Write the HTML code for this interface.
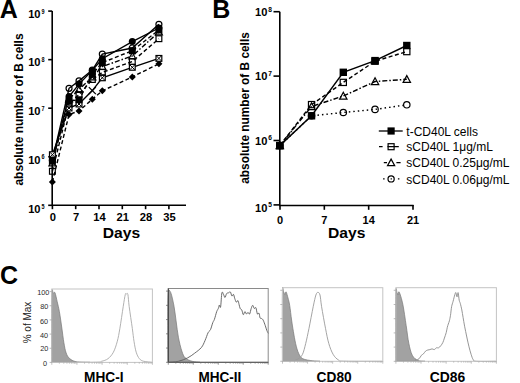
<!DOCTYPE html>
<html><head><meta charset="utf-8"><style>
html,body{margin:0;padding:0;background:#fff;}
body{width:520px;height:383px;overflow:hidden;}
svg{display:block;}
</style></head><body>
<svg width="520" height="383" viewBox="0 0 520 383">
<text x="-0.2" y="17.7" font-size="25" font-weight="bold" font-family="'Liberation Sans', sans-serif">A</text>
<text x="212.3" y="17.8" font-size="25" font-weight="bold" font-family="'Liberation Sans', sans-serif">B</text>
<text x="-0.1" y="283.6" font-size="25" font-weight="bold" font-family="'Liberation Sans', sans-serif">C</text>
<g stroke="#000" stroke-width="1.6" fill="none">
<path d="M52.2,11.1 V205.3 H186"/>
<path d="M48.2,205.30 H52.2"/>
<path d="M48.2,156.75 H52.2"/>
<path d="M48.2,108.20 H52.2"/>
<path d="M48.2,59.65 H52.2"/>
<path d="M48.2,11.10 H52.2"/>
<path d="M52.40,205.3 V209.2"/>
<path d="M75.70,205.3 V209.2"/>
<path d="M99.00,205.3 V209.2"/>
<path d="M122.30,205.3 V209.2"/>
<path d="M145.60,205.3 V209.2"/>
<path d="M168.90,205.3 V209.2"/>
</g>
<text x="40.5" y="212.60" font-size="11.1" font-weight="bold" text-anchor="end" font-family="'Liberation Sans', sans-serif">10</text>
<text transform="translate(41.6,208.50) scale(0.82,1)" font-size="6.7" font-weight="bold" font-family="'Liberation Sans', sans-serif">5</text>
<text x="40.5" y="163.55" font-size="11.1" font-weight="bold" text-anchor="end" font-family="'Liberation Sans', sans-serif">10</text>
<text transform="translate(41.6,159.45) scale(0.82,1)" font-size="6.7" font-weight="bold" font-family="'Liberation Sans', sans-serif">6</text>
<text x="40.5" y="115.00" font-size="11.1" font-weight="bold" text-anchor="end" font-family="'Liberation Sans', sans-serif">10</text>
<text transform="translate(41.6,110.90) scale(0.82,1)" font-size="6.7" font-weight="bold" font-family="'Liberation Sans', sans-serif">7</text>
<text x="40.5" y="66.45" font-size="11.1" font-weight="bold" text-anchor="end" font-family="'Liberation Sans', sans-serif">10</text>
<text transform="translate(41.6,62.35) scale(0.82,1)" font-size="6.7" font-weight="bold" font-family="'Liberation Sans', sans-serif">8</text>
<text x="40.5" y="17.90" font-size="11.1" font-weight="bold" text-anchor="end" font-family="'Liberation Sans', sans-serif">10</text>
<text transform="translate(41.6,13.80) scale(0.82,1)" font-size="6.7" font-weight="bold" font-family="'Liberation Sans', sans-serif">9</text>
<text x="52.90" y="221.1" font-size="11.2" font-weight="bold" text-anchor="middle" font-family="'Liberation Sans', sans-serif">0</text>
<text x="76.20" y="221.1" font-size="11.2" font-weight="bold" text-anchor="middle" font-family="'Liberation Sans', sans-serif">7</text>
<text x="99.50" y="221.1" font-size="11.2" font-weight="bold" text-anchor="middle" font-family="'Liberation Sans', sans-serif">14</text>
<text x="122.80" y="221.1" font-size="11.2" font-weight="bold" text-anchor="middle" font-family="'Liberation Sans', sans-serif">21</text>
<text x="146.10" y="221.1" font-size="11.2" font-weight="bold" text-anchor="middle" font-family="'Liberation Sans', sans-serif">28</text>
<text x="169.40" y="221.1" font-size="11.2" font-weight="bold" text-anchor="middle" font-family="'Liberation Sans', sans-serif">35</text>
<text x="121.5" y="237.5" font-size="15.5" font-weight="bold" text-anchor="middle" textLength="37.4" lengthAdjust="spacingAndGlyphs" font-family="'Liberation Sans', sans-serif">Days</text>
<text transform="translate(22.9,109.5) rotate(-90)" x="0" y="0" font-size="12.4" font-weight="bold" text-anchor="middle" textLength="152" lengthAdjust="spacingAndGlyphs" font-family="'Liberation Sans', sans-serif">absolute number of B cells</text>
<g stroke="#000" stroke-width="1.6" fill="none">
<path d="M279.8,11.7 V205.5 H413.6"/>
<path d="M273.5,204.90 H279.8"/>
<path d="M273.5,140.50 H279.8"/>
<path d="M273.5,76.10 H279.8"/>
<path d="M273.5,11.70 H279.8"/>
<path d="M280.00,204.9 V209.8"/>
<path d="M324.33,204.9 V209.8"/>
<path d="M368.67,204.9 V209.8"/>
<path d="M413.00,204.9 V209.8"/>
</g>
<text x="267.4" y="211.50" font-size="11.1" font-weight="bold" text-anchor="end" font-family="'Liberation Sans', sans-serif">10</text>
<text x="268.3" y="207.30" font-size="6.6" font-weight="bold" font-family="'Liberation Sans', sans-serif">5</text>
<text x="267.4" y="144.50" font-size="11.1" font-weight="bold" text-anchor="end" font-family="'Liberation Sans', sans-serif">10</text>
<text x="268.3" y="140.30" font-size="6.6" font-weight="bold" font-family="'Liberation Sans', sans-serif">6</text>
<text x="267.4" y="80.10" font-size="11.1" font-weight="bold" text-anchor="end" font-family="'Liberation Sans', sans-serif">10</text>
<text x="268.3" y="75.90" font-size="6.6" font-weight="bold" font-family="'Liberation Sans', sans-serif">7</text>
<text x="267.4" y="15.70" font-size="11.1" font-weight="bold" text-anchor="end" font-family="'Liberation Sans', sans-serif">10</text>
<text x="268.3" y="11.50" font-size="6.6" font-weight="bold" font-family="'Liberation Sans', sans-serif">8</text>
<text x="280.00" y="223.9" font-size="11" font-weight="bold" text-anchor="middle" font-family="'Liberation Sans', sans-serif">0</text>
<text x="324.33" y="223.9" font-size="11" font-weight="bold" text-anchor="middle" font-family="'Liberation Sans', sans-serif">7</text>
<text x="368.67" y="223.9" font-size="11" font-weight="bold" text-anchor="middle" font-family="'Liberation Sans', sans-serif">14</text>
<text x="413.00" y="223.9" font-size="11" font-weight="bold" text-anchor="middle" font-family="'Liberation Sans', sans-serif">21</text>
<text x="346.7" y="237.8" font-size="15.5" font-weight="bold" text-anchor="middle" textLength="37.4" lengthAdjust="spacingAndGlyphs" font-family="'Liberation Sans', sans-serif">Days</text>
<text transform="translate(249.0,108.0) rotate(-90)" x="0" y="0" font-size="12.4" font-weight="bold" text-anchor="middle" textLength="151.6" lengthAdjust="spacingAndGlyphs" font-family="'Liberation Sans', sans-serif">absolute number of B cells</text>
<path d="M279.80,145.60 L311.55,104.60 L343.30,82.40 L375.05,61.20 L406.80,51.60" fill="none" stroke="#000" stroke-width="1.45" stroke-dasharray="4,2.5"/><path d="M279.80,145.60 L311.55,106.50 L343.30,96.00 L375.05,81.50 L406.80,79.30" fill="none" stroke="#000" stroke-width="1.45" stroke-dasharray="5,2,1.5,2"/><path d="M279.80,145.60 L311.55,115.80 L343.30,112.50 L375.05,109.40 L406.80,104.80" fill="none" stroke="#000" stroke-width="1.45" stroke-dasharray="1.5,3"/><path d="M279.80,145.60 L311.55,115.80 L343.30,72.30 L375.05,60.60 L406.80,45.50" fill="none" stroke="#000" stroke-width="1.45"/>
<rect x="276.70" y="142.50" width="6.2" height="6.2" fill="none" stroke="#000" stroke-width="1.2"/><rect x="308.45" y="101.50" width="6.2" height="6.2" fill="none" stroke="#000" stroke-width="1.2"/><rect x="340.20" y="79.30" width="6.2" height="6.2" fill="none" stroke="#000" stroke-width="1.2"/><rect x="371.95" y="58.10" width="6.2" height="6.2" fill="none" stroke="#000" stroke-width="1.2"/><rect x="403.70" y="48.50" width="6.2" height="6.2" fill="none" stroke="#000" stroke-width="1.2"/><path d="M279.80,141.90 L283.50,148.70 L276.10,148.70 Z" fill="none" stroke="#000" stroke-width="1.2"/><path d="M311.55,102.80 L315.25,109.60 L307.85,109.60 Z" fill="none" stroke="#000" stroke-width="1.2"/><path d="M343.30,92.30 L347.00,99.10 L339.60,99.10 Z" fill="none" stroke="#000" stroke-width="1.2"/><path d="M375.05,77.80 L378.75,84.60 L371.35,84.60 Z" fill="none" stroke="#000" stroke-width="1.2"/><path d="M406.80,75.60 L410.50,82.40 L403.10,82.40 Z" fill="none" stroke="#000" stroke-width="1.2"/><circle cx="279.80" cy="145.60" r="3.20" fill="none" stroke="#000" stroke-width="1.2"/><circle cx="311.55" cy="115.80" r="3.20" fill="none" stroke="#000" stroke-width="1.2"/><circle cx="343.30" cy="112.50" r="3.20" fill="none" stroke="#000" stroke-width="1.2"/><circle cx="375.05" cy="109.40" r="3.20" fill="none" stroke="#000" stroke-width="1.2"/><circle cx="406.80" cy="104.80" r="3.20" fill="none" stroke="#000" stroke-width="1.2"/><rect x="276.10" y="141.90" width="7.4" height="7.4" fill="#000"/><rect x="307.85" y="112.10" width="7.4" height="7.4" fill="#000"/><rect x="339.60" y="68.60" width="7.4" height="7.4" fill="#000"/><rect x="371.35" y="56.90" width="7.4" height="7.4" fill="#000"/><rect x="403.10" y="41.80" width="7.4" height="7.4" fill="#000"/>
<path d="M378.8,131.0 H402.7" stroke="#000" stroke-width="1.3"/>
<rect x="387.50" y="127.40" width="7.2" height="7.2" fill="#000"/>
<text x="406.3" y="135.60" font-size="12.0" font-family="'Liberation Sans', sans-serif">t-CD40L cells</text>
<path d="M379,146.7 H382.6 M387.5,146.7 H398.8" stroke="#000" stroke-width="1.3"/>
<rect x="388.10" y="143.70" width="6.0" height="6.0" fill="none" stroke="#000" stroke-width="1.2"/>
<text x="406.3" y="151.30" font-size="12.0" font-family="'Liberation Sans', sans-serif">sCD40L 1μg/mL</text>
<path d="M383.8,162.7 H387 M396.4,162.7 H400.6" stroke="#000" stroke-width="1.3"/>
<path d="M391.10,159.10 L394.70,165.70 L387.50,165.70 Z" fill="none" stroke="#000" stroke-width="1.2"/>
<text x="406.3" y="167.30" font-size="12.0" font-family="'Liberation Sans', sans-serif">sCD40L 0.25μg/mL</text>
<path d="M383.1,178.9 H384.6 M390.6,178.9 H391.9 M397.9,178.9 H399.4" stroke="#000" stroke-width="1.3"/>
<circle cx="391.10" cy="178.90" r="3.10" fill="none" stroke="#000" stroke-width="1.2"/>
<text x="406.3" y="183.50" font-size="12.0" font-family="'Liberation Sans', sans-serif">sCD40L 0.06μg/mL</text>
<path d="M52.40,182.00 L69.04,114.50 L79.03,111.00 L92.34,99.20 L102.33,90.80 L132.29,76.90 L158.91,63.80" fill="none" stroke="#000" stroke-width="1.4" stroke-dasharray="4,2.5"/><path d="M52.40,154.70 L69.04,108.00 L79.03,104.00 L92.34,90.60 L102.33,77.80 L132.29,67.30 L158.91,58.40" fill="none" stroke="#000" stroke-width="1.4"/><path d="M52.40,171.30 L69.04,104.00 L79.03,94.60 L92.34,79.50 L102.33,72.40 L132.29,61.50 L158.91,38.70" fill="none" stroke="#000" stroke-width="1.4" stroke-dasharray="4,2.5"/><path d="M52.40,163.00 L69.04,99.00 L79.03,89.40 L92.34,77.00 L102.33,66.50 L132.29,56.00 L158.91,32.00" fill="none" stroke="#000" stroke-width="1.4" stroke-dasharray="5,2,1.5,2"/><path d="M52.40,161.00 L69.04,101.00 L79.03,99.80 L92.34,74.30 L102.33,62.60 L132.29,50.70 L158.91,30.00" fill="none" stroke="#000" stroke-width="1.4" stroke-dasharray="4,2.5"/><path d="M52.40,160.00 L69.04,96.50 L79.03,84.10 L92.34,70.40 L102.33,58.70 L132.29,41.60 L158.91,28.00" fill="none" stroke="#000" stroke-width="1.4"/><path d="M52.40,160.50 L69.04,88.30 L79.03,80.90 L92.34,70.00 L102.33,54.10 L132.29,48.00 L158.91,24.30" fill="none" stroke="#000" stroke-width="1.4"/>
<path d="M52.40,178.50 L55.90,182.00 L52.40,185.50 L48.90,182.00 Z" fill="#000"/><path d="M69.04,111.00 L72.54,114.50 L69.04,118.00 L65.54,114.50 Z" fill="#000"/><path d="M79.03,107.50 L82.53,111.00 L79.03,114.50 L75.53,111.00 Z" fill="#000"/><path d="M92.34,95.70 L95.84,99.20 L92.34,102.70 L88.84,99.20 Z" fill="#000"/><path d="M102.33,87.30 L105.83,90.80 L102.33,94.30 L98.83,90.80 Z" fill="#000"/><path d="M132.29,73.40 L135.79,76.90 L132.29,80.40 L128.79,76.90 Z" fill="#000"/><path d="M158.91,60.30 L162.41,63.80 L158.91,67.30 L155.41,63.80 Z" fill="#000"/><rect x="49.50" y="151.80" width="5.8" height="5.8" fill="#fff" stroke="#000" stroke-width="1.2"/><path d="M49.9,152.2 L54.9,157.2 M54.9,152.2 L49.9,157.2" stroke="#000" stroke-width="1"/><rect x="66.14" y="105.10" width="5.8" height="5.8" fill="#fff" stroke="#000" stroke-width="1.2"/><path d="M66.54285714285714,105.5 L71.54285714285714,110.5 M71.54285714285714,105.5 L66.54285714285714,110.5" stroke="#000" stroke-width="1"/><rect x="76.13" y="101.10" width="5.8" height="5.8" fill="#fff" stroke="#000" stroke-width="1.2"/><path d="M76.52857142857144,101.5 L81.52857142857144,106.5 M81.52857142857144,101.5 L76.52857142857144,106.5" stroke="#000" stroke-width="1"/><path d="M88.84,87.10 L95.84,94.10 M95.84,87.10 L88.84,94.10" stroke="#000" stroke-width="1.3"/><rect x="99.43" y="74.90" width="5.8" height="5.8" fill="#fff" stroke="#000" stroke-width="1.2"/><path d="M99.82857142857144,75.3 L104.82857142857144,80.3 M104.82857142857144,75.3 L99.82857142857144,80.3" stroke="#000" stroke-width="1"/><rect x="129.39" y="64.40" width="5.8" height="5.8" fill="#fff" stroke="#000" stroke-width="1.2"/><path d="M129.7857142857143,64.8 L134.7857142857143,69.8 M134.7857142857143,64.8 L129.7857142857143,69.8" stroke="#000" stroke-width="1"/><rect x="156.01" y="55.50" width="5.8" height="5.8" fill="#fff" stroke="#000" stroke-width="1.2"/><path d="M156.41428571428574,55.9 L161.41428571428574,60.9 M161.41428571428574,55.9 L156.41428571428574,60.9" stroke="#000" stroke-width="1"/><rect x="49.50" y="168.40" width="5.8" height="5.8" fill="none" stroke="#000" stroke-width="1.2"/><rect x="66.14" y="101.10" width="5.8" height="5.8" fill="none" stroke="#000" stroke-width="1.2"/><rect x="76.13" y="91.70" width="5.8" height="5.8" fill="none" stroke="#000" stroke-width="1.2"/><rect x="89.44" y="76.60" width="5.8" height="5.8" fill="none" stroke="#000" stroke-width="1.2"/><rect x="99.43" y="69.50" width="5.8" height="5.8" fill="none" stroke="#000" stroke-width="1.2"/><rect x="129.39" y="58.60" width="5.8" height="5.8" fill="none" stroke="#000" stroke-width="1.2"/><rect x="156.01" y="35.80" width="5.8" height="5.8" fill="none" stroke="#000" stroke-width="1.2"/><path d="M52.40,159.50 L55.90,165.90 L48.90,165.90 Z" fill="none" stroke="#000" stroke-width="1.2"/><path d="M69.04,95.50 L72.54,101.90 L65.54,101.90 Z" fill="none" stroke="#000" stroke-width="1.2"/><path d="M79.03,85.90 L82.53,92.30 L75.53,92.30 Z" fill="none" stroke="#000" stroke-width="1.2"/><path d="M92.34,73.50 L95.84,79.90 L88.84,79.90 Z" fill="none" stroke="#000" stroke-width="1.2"/><path d="M102.33,63.00 L105.83,69.40 L98.83,69.40 Z" fill="none" stroke="#000" stroke-width="1.2"/><path d="M132.29,52.50 L135.79,58.90 L128.79,58.90 Z" fill="none" stroke="#000" stroke-width="1.2"/><path d="M158.91,28.50 L162.41,34.90 L155.41,34.90 Z" fill="none" stroke="#000" stroke-width="1.2"/><rect x="48.90" y="157.50" width="7.0" height="7.0" fill="#000"/><rect x="65.54" y="97.50" width="7.0" height="7.0" fill="#000"/><rect x="75.53" y="96.30" width="7.0" height="7.0" fill="#000"/><rect x="88.84" y="70.80" width="7.0" height="7.0" fill="#000"/><rect x="98.83" y="59.10" width="7.0" height="7.0" fill="#000"/><rect x="128.79" y="47.20" width="7.0" height="7.0" fill="#000"/><rect x="155.41" y="26.50" width="7.0" height="7.0" fill="#000"/><circle cx="52.40" cy="160.00" r="3.50" fill="#000"/><circle cx="69.04" cy="96.50" r="3.50" fill="#000"/><circle cx="79.03" cy="84.10" r="3.50" fill="#000"/><circle cx="92.34" cy="70.40" r="3.50" fill="#000"/><circle cx="102.33" cy="58.70" r="3.50" fill="#000"/><circle cx="132.29" cy="41.60" r="3.50" fill="#000"/><circle cx="158.91" cy="28.00" r="3.50" fill="#000"/><circle cx="52.40" cy="160.50" r="3.00" fill="none" stroke="#000" stroke-width="1.2"/><circle cx="69.04" cy="88.30" r="3.00" fill="none" stroke="#000" stroke-width="1.2"/><circle cx="79.03" cy="80.90" r="3.00" fill="none" stroke="#000" stroke-width="1.2"/><circle cx="92.34" cy="70.00" r="3.00" fill="none" stroke="#000" stroke-width="1.2"/><circle cx="102.33" cy="54.10" r="3.00" fill="none" stroke="#000" stroke-width="1.2"/><circle cx="132.29" cy="48.00" r="3.00" fill="none" stroke="#000" stroke-width="1.2"/><circle cx="158.91" cy="24.30" r="3.00" fill="none" stroke="#000" stroke-width="1.2"/>
<text x="47.00" y="365.65" font-size="7.3" text-anchor="end" fill="#2a2a2a" font-family="'Liberation Sans', sans-serif">0</text>
<text x="48.40" y="351.25" font-size="7.3" text-anchor="end" fill="#2a2a2a" font-family="'Liberation Sans', sans-serif">20</text>
<text x="48.20" y="337.95" font-size="7.3" text-anchor="end" fill="#2a2a2a" font-family="'Liberation Sans', sans-serif">40</text>
<text x="48.10" y="323.65" font-size="7.3" text-anchor="end" fill="#2a2a2a" font-family="'Liberation Sans', sans-serif">60</text>
<text x="48.40" y="308.85" font-size="7.3" text-anchor="end" fill="#2a2a2a" font-family="'Liberation Sans', sans-serif">80</text>
<text x="49.40" y="295.25" font-size="7.3" text-anchor="end" fill="#2a2a2a" font-family="'Liberation Sans', sans-serif">100</text>
<text transform="translate(30.6,322.5) rotate(-90)" font-size="10" text-anchor="middle" fill="#222" font-family="'Liberation Sans', sans-serif">% of Max</text>
<text x="103.75" y="381.7" font-size="14.1" font-weight="bold" text-anchor="middle" textLength="39.5" lengthAdjust="spacingAndGlyphs" font-family="'Liberation Sans', sans-serif">MHC-I</text>
<text x="219.85" y="381.7" font-size="14.1" font-weight="bold" text-anchor="middle" textLength="42.9" lengthAdjust="spacingAndGlyphs" font-family="'Liberation Sans', sans-serif">MHC-II</text>
<text x="334.15" y="381.7" font-size="14.1" font-weight="bold" text-anchor="middle" textLength="35.1" lengthAdjust="spacingAndGlyphs" font-family="'Liberation Sans', sans-serif">CD80</text>
<text x="447.45" y="381.7" font-size="14.1" font-weight="bold" text-anchor="middle" textLength="35.5" lengthAdjust="spacingAndGlyphs" font-family="'Liberation Sans', sans-serif">CD86</text>
<path d="M51.80,362.40 C51.80,351.17 51.55,306.53 51.80,295.00 C52.05,283.47 52.77,293.57 53.30,293.20 C53.83,292.83 54.35,291.38 55.00,292.80 C55.65,294.22 56.47,298.55 57.20,301.70 C57.93,304.85 58.65,307.48 59.40,311.70 C60.15,315.92 60.95,321.82 61.70,327.00 C62.45,332.18 63.17,338.50 63.90,342.80 C64.63,347.10 65.18,350.22 66.10,352.80 C67.02,355.38 67.73,356.82 69.40,358.30 C71.07,359.78 72.67,361.02 76.10,361.70 C79.53,362.38 87.68,362.28 90.00,362.40 Z" fill="#a2a2a2" stroke="#777" stroke-width="0.7"/>
<path d="M168.00,362.30 C168.00,351.58 167.62,309.77 168.00,298.00 C168.38,286.23 169.33,290.53 170.30,291.70 C171.27,292.87 172.83,300.12 173.80,305.00 C174.77,309.88 175.33,315.63 176.10,321.00 C176.87,326.37 177.45,332.20 178.40,337.20 C179.35,342.20 180.65,347.55 181.80,351.00 C182.95,354.45 183.57,356.18 185.30,357.90 C187.03,359.62 189.75,360.57 192.20,361.30 C194.65,362.03 198.70,362.13 200.00,362.30 Z" fill="#a2a2a2" stroke="#777" stroke-width="0.7"/>
<path d="M282.40,361.30 C282.40,349.83 282.20,304.08 282.40,292.50 C282.60,280.92 283.20,291.47 283.60,291.80 C284.00,292.13 284.38,294.48 284.80,294.50 C285.22,294.52 285.57,291.32 286.10,291.90 C286.63,292.48 287.40,295.75 288.00,298.00 C288.60,300.25 289.10,301.73 289.70,305.40 C290.30,309.07 290.98,315.63 291.60,320.00 C292.22,324.37 292.73,327.68 293.40,331.60 C294.07,335.52 294.73,339.88 295.60,343.50 C296.47,347.12 297.40,350.77 298.60,353.30 C299.80,355.83 300.48,357.45 302.80,358.70 C305.12,359.95 309.63,360.37 312.50,360.80 C315.37,361.23 318.75,361.22 320.00,361.30 Z" fill="#a2a2a2" stroke="#777" stroke-width="0.7"/>
<path d="M395.80,361.30 C395.80,350.08 395.60,305.47 395.80,294.00 C396.00,282.53 396.63,292.33 397.00,292.50 C397.37,292.67 397.63,295.07 398.00,295.00 C398.37,294.93 398.40,290.57 399.20,292.10 C400.00,293.63 401.63,298.60 402.80,304.20 C403.97,309.80 405.20,319.20 406.20,325.70 C407.20,332.20 407.78,338.27 408.80,343.20 C409.82,348.13 410.77,352.42 412.30,355.30 C413.83,358.18 415.88,359.50 418.00,360.50 C420.12,361.50 423.83,361.17 425.00,361.30 Z" fill="#a2a2a2" stroke="#777" stroke-width="0.7"/>
<path d="M52.00,362.40 C59.17,362.37 86.75,362.38 95.00,362.20 C103.25,362.02 99.33,361.88 101.50,361.30 C103.67,360.72 106.02,360.22 108.00,358.70 C109.98,357.18 111.85,355.10 113.40,352.20 C114.95,349.30 116.22,345.28 117.30,341.30 C118.38,337.32 118.92,334.07 119.90,328.30 C120.88,322.53 122.30,312.33 123.20,306.70 C124.10,301.07 124.73,296.62 125.30,294.50 C125.87,292.38 126.17,294.00 126.60,294.00 C127.03,294.00 127.47,292.38 127.90,294.50 C128.33,296.62 128.47,301.07 129.20,306.70 C129.93,312.33 131.50,322.53 132.30,328.30 C133.10,334.07 133.35,337.32 134.00,341.30 C134.65,345.28 135.30,349.30 136.20,352.20 C137.10,355.10 138.13,357.18 139.40,358.70 C140.67,360.22 141.63,360.70 143.80,361.30 C145.97,361.90 150.97,362.13 152.40,362.30" fill="none" stroke="#a8a8a8" stroke-width="0.9"/>
<path d="M168.00,362.30 C169.73,362.13 175.13,362.03 178.40,361.30 C181.67,360.57 184.92,359.23 187.60,357.90 C190.28,356.57 192.20,355.03 194.50,353.30 C196.80,351.57 199.65,349.62 201.40,347.50 C203.15,345.38 203.88,343.07 205.00,340.60 C206.12,338.13 207.18,334.53 208.10,332.70 C209.02,330.87 209.72,331.28 210.50,329.60 C211.28,327.92 212.15,324.30 212.80,322.60 C213.45,320.90 213.75,321.23 214.40,319.40 C215.05,317.57 216.05,313.42 216.70,311.60 C217.35,309.78 217.85,309.60 218.30,308.50 C218.75,307.40 219.02,305.27 219.40,305.00 C219.78,304.73 220.18,308.93 220.60,306.90 C221.02,304.87 221.42,294.88 221.90,292.80 C222.38,290.72 222.98,293.62 223.50,294.40 C224.02,295.18 224.48,297.63 225.00,297.50 C225.52,297.37 226.02,294.38 226.60,293.60 C227.18,292.82 227.87,293.07 228.50,292.80 C229.13,292.53 229.83,291.47 230.40,292.00 C230.97,292.53 231.38,295.60 231.90,296.00 C232.42,296.40 233.03,294.02 233.50,294.40 C233.97,294.78 234.23,297.00 234.70,298.30 C235.17,299.60 235.77,301.82 236.30,302.20 C236.83,302.58 237.43,300.20 237.90,300.60 C238.37,301.00 238.72,303.28 239.10,304.60 C239.48,305.92 239.75,307.60 240.20,308.50 C240.65,309.40 241.28,308.97 241.80,310.00 C242.32,311.03 242.78,314.43 243.30,314.70 C243.82,314.97 244.37,311.72 244.90,311.60 C245.43,311.48 245.98,313.87 246.50,314.00 C247.02,314.13 247.48,312.40 248.00,312.40 C248.52,312.40 249.07,314.65 249.60,314.00 C250.13,313.35 250.68,309.95 251.20,308.50 C251.72,307.05 252.18,305.30 252.70,305.30 C253.22,305.30 253.77,308.10 254.30,308.50 C254.83,308.90 255.38,306.78 255.90,307.70 C256.42,308.62 256.88,313.08 257.40,314.00 C257.92,314.92 258.55,312.55 259.00,313.20 C259.45,313.85 259.65,317.00 260.10,317.90 C260.55,318.80 261.18,318.22 261.70,318.60 C262.22,318.98 262.60,319.02 263.20,320.20 C263.80,321.38 264.70,324.00 265.30,325.70 C265.90,327.40 266.28,329.10 266.80,330.40 C267.32,331.70 268.13,332.98 268.40,333.50" fill="none" stroke="#5a5a5a" stroke-width="0.9"/>
<path d="M282.40,361.20 C284.17,361.13 290.35,361.22 293.00,360.80 C295.65,360.38 296.72,359.78 298.30,358.70 C299.88,357.62 301.27,356.83 302.50,354.30 C303.73,351.77 304.62,347.83 305.70,343.50 C306.78,339.17 307.75,334.43 309.00,328.30 C310.25,322.17 312.05,312.25 313.20,306.70 C314.35,301.15 315.12,297.38 315.90,295.00 C316.68,292.62 317.22,292.40 317.90,292.40 C318.58,292.40 319.38,292.62 320.00,295.00 C320.62,297.38 320.68,301.15 321.60,306.70 C322.52,312.25 324.30,322.17 325.50,328.30 C326.70,334.43 327.53,339.17 328.80,343.50 C330.07,347.83 331.48,351.55 333.10,354.30 C334.72,357.05 336.52,358.85 338.50,360.00 C340.48,361.15 337.65,360.98 345.00,361.20 C352.35,361.42 376.33,361.28 382.60,361.30" fill="none" stroke="#9a9a9a" stroke-width="0.9"/>
<path d="M396.00,361.30 C398.33,361.28 406.87,361.28 410.00,361.20 C413.13,361.12 413.28,361.22 414.80,360.80 C416.32,360.38 418.02,359.60 419.10,358.70 C420.18,357.80 420.58,356.20 421.30,355.40 C422.02,354.60 422.68,354.62 423.40,353.90 C424.12,353.18 424.87,351.75 425.60,351.10 C426.33,350.45 427.08,350.25 427.80,350.00 C428.52,349.75 429.18,349.78 429.90,349.60 C430.62,349.42 431.37,348.90 432.10,348.90 C432.83,348.90 433.58,349.78 434.30,349.60 C435.02,349.42 435.68,348.10 436.40,347.80 C437.12,347.50 437.87,348.15 438.60,347.80 C439.33,347.45 440.08,346.60 440.80,345.70 C441.52,344.80 442.30,343.67 442.90,342.40 C443.50,341.13 443.85,339.72 444.40,338.10 C444.95,336.48 445.72,334.50 446.20,332.70 C446.68,330.90 446.95,328.75 447.30,327.30 C447.65,325.85 447.95,325.08 448.30,324.00 C448.65,322.92 449.03,322.25 449.40,320.80 C449.77,319.35 450.13,317.65 450.50,315.30 C450.87,312.95 451.17,309.03 451.60,306.70 C452.03,304.37 452.57,303.28 453.10,301.30 C453.63,299.32 454.33,296.25 454.80,294.80 C455.27,293.35 455.53,292.25 455.90,292.60 C456.27,292.95 456.63,296.90 457.00,296.90 C457.37,296.90 457.73,292.05 458.10,292.60 C458.47,293.15 458.83,298.40 459.20,300.20 C459.57,302.00 459.87,301.78 460.30,303.40 C460.73,305.02 461.33,307.55 461.80,309.90 C462.27,312.25 462.63,314.78 463.10,317.50 C463.57,320.22 463.98,322.95 464.60,326.20 C465.22,329.45 466.07,333.57 466.80,337.00 C467.53,340.43 468.28,343.92 469.00,346.80 C469.72,349.68 470.38,352.13 471.10,354.30 C471.82,356.47 472.40,358.63 473.30,359.80 C474.20,360.97 472.65,361.05 476.50,361.30 C480.35,361.55 493.08,361.30 496.40,361.30" fill="none" stroke="#8a8a8a" stroke-width="0.9"/>
<rect x="51.8" y="289.0" width="100.60" height="73.40" fill="none" stroke="#c4c4c4" stroke-width="1"/><path d="M49.60,362.40 H51.8" stroke="#a8a8a8" stroke-width="0.8"/><path d="M49.60,348.24 H51.8" stroke="#a8a8a8" stroke-width="0.8"/><path d="M49.60,334.08 H51.8" stroke="#a8a8a8" stroke-width="0.8"/><path d="M49.60,319.92 H51.8" stroke="#a8a8a8" stroke-width="0.8"/><path d="M49.60,305.76 H51.8" stroke="#a8a8a8" stroke-width="0.8"/><path d="M49.60,291.60 H51.8" stroke="#a8a8a8" stroke-width="0.8"/><path d="M51.80,362.4 V364.79999999999995" stroke="#a8a8a8" stroke-width="0.7"/><path d="M59.37,362.4 V363.7" stroke="#a8a8a8" stroke-width="0.7"/><path d="M63.80,362.4 V363.7" stroke="#a8a8a8" stroke-width="0.7"/><path d="M66.94,362.4 V363.7" stroke="#a8a8a8" stroke-width="0.7"/><path d="M69.38,362.4 V363.7" stroke="#a8a8a8" stroke-width="0.7"/><path d="M71.37,362.4 V363.7" stroke="#a8a8a8" stroke-width="0.7"/><path d="M73.05,362.4 V363.7" stroke="#a8a8a8" stroke-width="0.7"/><path d="M74.51,362.4 V363.7" stroke="#a8a8a8" stroke-width="0.7"/><path d="M75.80,362.4 V363.7" stroke="#a8a8a8" stroke-width="0.7"/><path d="M76.95,362.4 V364.79999999999995" stroke="#a8a8a8" stroke-width="0.7"/><path d="M84.52,362.4 V363.7" stroke="#a8a8a8" stroke-width="0.7"/><path d="M88.95,362.4 V363.7" stroke="#a8a8a8" stroke-width="0.7"/><path d="M92.09,362.4 V363.7" stroke="#a8a8a8" stroke-width="0.7"/><path d="M94.53,362.4 V363.7" stroke="#a8a8a8" stroke-width="0.7"/><path d="M96.52,362.4 V363.7" stroke="#a8a8a8" stroke-width="0.7"/><path d="M98.20,362.4 V363.7" stroke="#a8a8a8" stroke-width="0.7"/><path d="M99.66,362.4 V363.7" stroke="#a8a8a8" stroke-width="0.7"/><path d="M100.95,362.4 V363.7" stroke="#a8a8a8" stroke-width="0.7"/><path d="M102.10,362.4 V364.79999999999995" stroke="#a8a8a8" stroke-width="0.7"/><path d="M109.67,362.4 V363.7" stroke="#a8a8a8" stroke-width="0.7"/><path d="M114.10,362.4 V363.7" stroke="#a8a8a8" stroke-width="0.7"/><path d="M117.24,362.4 V363.7" stroke="#a8a8a8" stroke-width="0.7"/><path d="M119.68,362.4 V363.7" stroke="#a8a8a8" stroke-width="0.7"/><path d="M121.67,362.4 V363.7" stroke="#a8a8a8" stroke-width="0.7"/><path d="M123.35,362.4 V363.7" stroke="#a8a8a8" stroke-width="0.7"/><path d="M124.81,362.4 V363.7" stroke="#a8a8a8" stroke-width="0.7"/><path d="M126.10,362.4 V363.7" stroke="#a8a8a8" stroke-width="0.7"/><path d="M127.25,362.4 V364.79999999999995" stroke="#a8a8a8" stroke-width="0.7"/><path d="M134.82,362.4 V363.7" stroke="#a8a8a8" stroke-width="0.7"/><path d="M139.25,362.4 V363.7" stroke="#a8a8a8" stroke-width="0.7"/><path d="M142.39,362.4 V363.7" stroke="#a8a8a8" stroke-width="0.7"/><path d="M144.83,362.4 V363.7" stroke="#a8a8a8" stroke-width="0.7"/><path d="M146.82,362.4 V363.7" stroke="#a8a8a8" stroke-width="0.7"/><path d="M148.50,362.4 V363.7" stroke="#a8a8a8" stroke-width="0.7"/><path d="M149.96,362.4 V363.7" stroke="#a8a8a8" stroke-width="0.7"/><path d="M151.25,362.4 V363.7" stroke="#a8a8a8" stroke-width="0.7"/><path d="M152.40,362.4 V364.79999999999995" stroke="#a8a8a8" stroke-width="0.7"/><rect x="168.3" y="288.5" width="99.90" height="73.80" fill="none" stroke="#8a8a8a" stroke-width="1"/><path d="M168.3,288.5 V362.3" stroke="#3a3a3a" stroke-width="1"/><path d="M168.3,362.3 H268.2" stroke="#555" stroke-width="1"/><path d="M166.10,362.30 H168.3" stroke="#666" stroke-width="0.8"/><path d="M166.10,348.06 H168.3" stroke="#666" stroke-width="0.8"/><path d="M166.10,333.82 H168.3" stroke="#666" stroke-width="0.8"/><path d="M166.10,319.58 H168.3" stroke="#666" stroke-width="0.8"/><path d="M166.10,305.34 H168.3" stroke="#666" stroke-width="0.8"/><path d="M166.10,291.10 H168.3" stroke="#666" stroke-width="0.8"/><path d="M168.30,362.3 V364.7" stroke="#666" stroke-width="0.7"/><path d="M175.82,362.3 V363.6" stroke="#666" stroke-width="0.7"/><path d="M180.22,362.3 V363.6" stroke="#666" stroke-width="0.7"/><path d="M183.34,362.3 V363.6" stroke="#666" stroke-width="0.7"/><path d="M185.76,362.3 V363.6" stroke="#666" stroke-width="0.7"/><path d="M187.73,362.3 V363.6" stroke="#666" stroke-width="0.7"/><path d="M189.41,362.3 V363.6" stroke="#666" stroke-width="0.7"/><path d="M190.85,362.3 V363.6" stroke="#666" stroke-width="0.7"/><path d="M192.13,362.3 V363.6" stroke="#666" stroke-width="0.7"/><path d="M193.28,362.3 V364.7" stroke="#666" stroke-width="0.7"/><path d="M200.79,362.3 V363.6" stroke="#666" stroke-width="0.7"/><path d="M205.19,362.3 V363.6" stroke="#666" stroke-width="0.7"/><path d="M208.31,362.3 V363.6" stroke="#666" stroke-width="0.7"/><path d="M210.73,362.3 V363.6" stroke="#666" stroke-width="0.7"/><path d="M212.71,362.3 V363.6" stroke="#666" stroke-width="0.7"/><path d="M214.38,362.3 V363.6" stroke="#666" stroke-width="0.7"/><path d="M215.83,362.3 V363.6" stroke="#666" stroke-width="0.7"/><path d="M217.11,362.3 V363.6" stroke="#666" stroke-width="0.7"/><path d="M218.25,362.3 V364.7" stroke="#666" stroke-width="0.7"/><path d="M225.77,362.3 V363.6" stroke="#666" stroke-width="0.7"/><path d="M230.17,362.3 V363.6" stroke="#666" stroke-width="0.7"/><path d="M233.29,362.3 V363.6" stroke="#666" stroke-width="0.7"/><path d="M235.71,362.3 V363.6" stroke="#666" stroke-width="0.7"/><path d="M237.68,362.3 V363.6" stroke="#666" stroke-width="0.7"/><path d="M239.36,362.3 V363.6" stroke="#666" stroke-width="0.7"/><path d="M240.80,362.3 V363.6" stroke="#666" stroke-width="0.7"/><path d="M242.08,362.3 V363.6" stroke="#666" stroke-width="0.7"/><path d="M243.22,362.3 V364.7" stroke="#666" stroke-width="0.7"/><path d="M250.74,362.3 V363.6" stroke="#666" stroke-width="0.7"/><path d="M255.14,362.3 V363.6" stroke="#666" stroke-width="0.7"/><path d="M258.26,362.3 V363.6" stroke="#666" stroke-width="0.7"/><path d="M260.68,362.3 V363.6" stroke="#666" stroke-width="0.7"/><path d="M262.66,362.3 V363.6" stroke="#666" stroke-width="0.7"/><path d="M264.33,362.3 V363.6" stroke="#666" stroke-width="0.7"/><path d="M265.78,362.3 V363.6" stroke="#666" stroke-width="0.7"/><path d="M267.06,362.3 V363.6" stroke="#666" stroke-width="0.7"/><path d="M268.20,362.3 V364.7" stroke="#666" stroke-width="0.7"/><rect x="282.5" y="287.7" width="100.30" height="73.60" fill="none" stroke="#c4c4c4" stroke-width="1"/><path d="M280.30,361.30 H282.5" stroke="#a8a8a8" stroke-width="0.8"/><path d="M280.30,347.10 H282.5" stroke="#a8a8a8" stroke-width="0.8"/><path d="M280.30,332.90 H282.5" stroke="#a8a8a8" stroke-width="0.8"/><path d="M280.30,318.70 H282.5" stroke="#a8a8a8" stroke-width="0.8"/><path d="M280.30,304.50 H282.5" stroke="#a8a8a8" stroke-width="0.8"/><path d="M280.30,290.30 H282.5" stroke="#a8a8a8" stroke-width="0.8"/><path d="M282.50,361.3 V363.7" stroke="#a8a8a8" stroke-width="0.7"/><path d="M290.05,361.3 V362.6" stroke="#a8a8a8" stroke-width="0.7"/><path d="M294.46,361.3 V362.6" stroke="#a8a8a8" stroke-width="0.7"/><path d="M297.60,361.3 V362.6" stroke="#a8a8a8" stroke-width="0.7"/><path d="M300.03,361.3 V362.6" stroke="#a8a8a8" stroke-width="0.7"/><path d="M302.01,361.3 V362.6" stroke="#a8a8a8" stroke-width="0.7"/><path d="M303.69,361.3 V362.6" stroke="#a8a8a8" stroke-width="0.7"/><path d="M305.14,361.3 V362.6" stroke="#a8a8a8" stroke-width="0.7"/><path d="M306.43,361.3 V362.6" stroke="#a8a8a8" stroke-width="0.7"/><path d="M307.57,361.3 V363.7" stroke="#a8a8a8" stroke-width="0.7"/><path d="M315.12,361.3 V362.6" stroke="#a8a8a8" stroke-width="0.7"/><path d="M319.54,361.3 V362.6" stroke="#a8a8a8" stroke-width="0.7"/><path d="M322.67,361.3 V362.6" stroke="#a8a8a8" stroke-width="0.7"/><path d="M325.10,361.3 V362.6" stroke="#a8a8a8" stroke-width="0.7"/><path d="M327.09,361.3 V362.6" stroke="#a8a8a8" stroke-width="0.7"/><path d="M328.77,361.3 V362.6" stroke="#a8a8a8" stroke-width="0.7"/><path d="M330.22,361.3 V362.6" stroke="#a8a8a8" stroke-width="0.7"/><path d="M331.50,361.3 V362.6" stroke="#a8a8a8" stroke-width="0.7"/><path d="M332.65,361.3 V363.7" stroke="#a8a8a8" stroke-width="0.7"/><path d="M340.20,361.3 V362.6" stroke="#a8a8a8" stroke-width="0.7"/><path d="M344.61,361.3 V362.6" stroke="#a8a8a8" stroke-width="0.7"/><path d="M347.75,361.3 V362.6" stroke="#a8a8a8" stroke-width="0.7"/><path d="M350.18,361.3 V362.6" stroke="#a8a8a8" stroke-width="0.7"/><path d="M352.16,361.3 V362.6" stroke="#a8a8a8" stroke-width="0.7"/><path d="M353.84,361.3 V362.6" stroke="#a8a8a8" stroke-width="0.7"/><path d="M355.29,361.3 V362.6" stroke="#a8a8a8" stroke-width="0.7"/><path d="M356.58,361.3 V362.6" stroke="#a8a8a8" stroke-width="0.7"/><path d="M357.73,361.3 V363.7" stroke="#a8a8a8" stroke-width="0.7"/><path d="M365.27,361.3 V362.6" stroke="#a8a8a8" stroke-width="0.7"/><path d="M369.69,361.3 V362.6" stroke="#a8a8a8" stroke-width="0.7"/><path d="M372.82,361.3 V362.6" stroke="#a8a8a8" stroke-width="0.7"/><path d="M375.25,361.3 V362.6" stroke="#a8a8a8" stroke-width="0.7"/><path d="M377.24,361.3 V362.6" stroke="#a8a8a8" stroke-width="0.7"/><path d="M378.92,361.3 V362.6" stroke="#a8a8a8" stroke-width="0.7"/><path d="M380.37,361.3 V362.6" stroke="#a8a8a8" stroke-width="0.7"/><path d="M381.65,361.3 V362.6" stroke="#a8a8a8" stroke-width="0.7"/><path d="M382.80,361.3 V363.7" stroke="#a8a8a8" stroke-width="0.7"/><rect x="395.9" y="287.7" width="100.50" height="73.60" fill="none" stroke="#c4c4c4" stroke-width="1"/><path d="M393.70,361.30 H395.9" stroke="#a8a8a8" stroke-width="0.8"/><path d="M393.70,347.10 H395.9" stroke="#a8a8a8" stroke-width="0.8"/><path d="M393.70,332.90 H395.9" stroke="#a8a8a8" stroke-width="0.8"/><path d="M393.70,318.70 H395.9" stroke="#a8a8a8" stroke-width="0.8"/><path d="M393.70,304.50 H395.9" stroke="#a8a8a8" stroke-width="0.8"/><path d="M393.70,290.30 H395.9" stroke="#a8a8a8" stroke-width="0.8"/><path d="M395.90,361.3 V363.7" stroke="#a8a8a8" stroke-width="0.7"/><path d="M403.46,361.3 V362.6" stroke="#a8a8a8" stroke-width="0.7"/><path d="M407.89,361.3 V362.6" stroke="#a8a8a8" stroke-width="0.7"/><path d="M411.03,361.3 V362.6" stroke="#a8a8a8" stroke-width="0.7"/><path d="M413.46,361.3 V362.6" stroke="#a8a8a8" stroke-width="0.7"/><path d="M415.45,361.3 V362.6" stroke="#a8a8a8" stroke-width="0.7"/><path d="M417.13,361.3 V362.6" stroke="#a8a8a8" stroke-width="0.7"/><path d="M418.59,361.3 V362.6" stroke="#a8a8a8" stroke-width="0.7"/><path d="M419.88,361.3 V362.6" stroke="#a8a8a8" stroke-width="0.7"/><path d="M421.02,361.3 V363.7" stroke="#a8a8a8" stroke-width="0.7"/><path d="M428.59,361.3 V362.6" stroke="#a8a8a8" stroke-width="0.7"/><path d="M433.01,361.3 V362.6" stroke="#a8a8a8" stroke-width="0.7"/><path d="M436.15,361.3 V362.6" stroke="#a8a8a8" stroke-width="0.7"/><path d="M438.59,361.3 V362.6" stroke="#a8a8a8" stroke-width="0.7"/><path d="M440.58,361.3 V362.6" stroke="#a8a8a8" stroke-width="0.7"/><path d="M442.26,361.3 V362.6" stroke="#a8a8a8" stroke-width="0.7"/><path d="M443.72,361.3 V362.6" stroke="#a8a8a8" stroke-width="0.7"/><path d="M445.00,361.3 V362.6" stroke="#a8a8a8" stroke-width="0.7"/><path d="M446.15,361.3 V363.7" stroke="#a8a8a8" stroke-width="0.7"/><path d="M453.71,361.3 V362.6" stroke="#a8a8a8" stroke-width="0.7"/><path d="M458.14,361.3 V362.6" stroke="#a8a8a8" stroke-width="0.7"/><path d="M461.28,361.3 V362.6" stroke="#a8a8a8" stroke-width="0.7"/><path d="M463.71,361.3 V362.6" stroke="#a8a8a8" stroke-width="0.7"/><path d="M465.70,361.3 V362.6" stroke="#a8a8a8" stroke-width="0.7"/><path d="M467.38,361.3 V362.6" stroke="#a8a8a8" stroke-width="0.7"/><path d="M468.84,361.3 V362.6" stroke="#a8a8a8" stroke-width="0.7"/><path d="M470.13,361.3 V362.6" stroke="#a8a8a8" stroke-width="0.7"/><path d="M471.27,361.3 V363.7" stroke="#a8a8a8" stroke-width="0.7"/><path d="M478.84,361.3 V362.6" stroke="#a8a8a8" stroke-width="0.7"/><path d="M483.26,361.3 V362.6" stroke="#a8a8a8" stroke-width="0.7"/><path d="M486.40,361.3 V362.6" stroke="#a8a8a8" stroke-width="0.7"/><path d="M488.84,361.3 V362.6" stroke="#a8a8a8" stroke-width="0.7"/><path d="M490.83,361.3 V362.6" stroke="#a8a8a8" stroke-width="0.7"/><path d="M492.51,361.3 V362.6" stroke="#a8a8a8" stroke-width="0.7"/><path d="M493.97,361.3 V362.6" stroke="#a8a8a8" stroke-width="0.7"/><path d="M495.25,361.3 V362.6" stroke="#a8a8a8" stroke-width="0.7"/><path d="M496.40,361.3 V363.7" stroke="#a8a8a8" stroke-width="0.7"/>
</svg>
</body></html>
